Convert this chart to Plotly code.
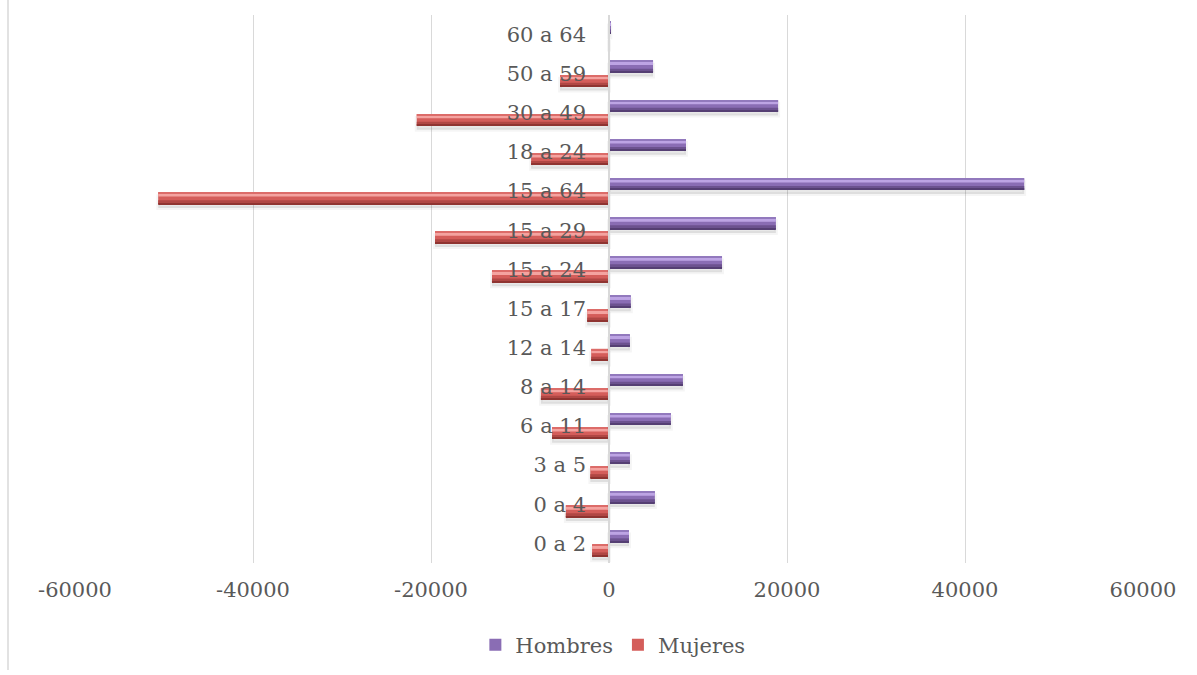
import plotly.graph_objects as go

# Age groups, bottom to top
grupos = ["0 a 2", "0 a 4", "3 a 5", "6 a 11", "8 a 14", "12 a 14", "15 a 17",
          "15 a 24", "15 a 29", "15 a 64", "18 a 24", "30 a 49", "50 a 59", "60 a 64"]
hombres = [2250, 5150, 2350, 6950, 8300, 2350, 2450,
           12700, 18750, 46650, 8650, 19000, 4950, 150]
mujeres = [-1900, -4850, -2100, -6400, -7650, -2000, -2450,
           -13150, -19550, -50650, -8750, -21600, -5500, 0]
x_ticks = [-60000, -40000, -20000, 0, 20000, 40000, 60000]

FONT = "DejaVu Serif"
TEXT = "#595959"
GRID = "#d9d9d9"

fig = go.Figure()

# Each series is drawn as layered bars for a bevelled look.
# Bands are (offset from lower edge, thickness, colour), bottom to top.
series = [
    dict(name="Mujeres", x=mujeres, rank=2, top=-0.03, body="#d45d5a",
         bands=[(0.00, 0.10, "#b04744"), (0.00, 0.03, "#8f3431"),
                (0.19, 0.08, "#f4a3a0"), (0.27, 0.03, "#dc6c69")]),
    dict(name="Hombres", x=hombres, rank=1, top=0.33, body="#8a6db4",
         bands=[(0.00, 0.10, "#6c528f"), (0.00, 0.03, "#553f73"),
                (0.19, 0.08, "#bda4e4"), (0.27, 0.03, "#9279bd")]),
]

for s in series:
    base = s["top"] - 0.30  # lower edge of the bar in category units
    # shadow below the bar
    fig.add_trace(go.Bar(
        y=grupos, x=s["x"], orientation="h", base=0,
        offset=base - 0.10, width=0.30,
        marker=dict(color="rgba(0,0,0,0.09)", line=dict(color="rgba(0,0,0,0.04)", width=4)),
        showlegend=False, hoverinfo="skip"))
    # body
    fig.add_trace(go.Bar(
        y=grupos, x=s["x"], orientation="h", name=s["name"],
        offset=base, width=0.30, legendrank=s["rank"],
        marker=dict(color=s["body"], line=dict(width=0)),
        showlegend=True))
    for off, wid, col in s["bands"]:
        fig.add_trace(go.Bar(
            y=grupos, x=s["x"], orientation="h",
            offset=base + off, width=wid,
            marker=dict(color=col, line=dict(width=0)),
            showlegend=False, hoverinfo="skip"))

W, H = 1197, 675
dom_x = [75 / W, 1143 / W]
dom_y = [1 - 563 / H, 1 - 15 / H]

fig.update_layout(
    width=W, height=H,
    margin=dict(l=0, r=0, t=0, b=0, autoexpand=False),
    paper_bgcolor="white", plot_bgcolor="white",
    barmode="overlay",
    font=dict(family=FONT, color=TEXT, size=21),
    xaxis=dict(
        domain=dom_x, range=[-60000, 60000], automargin=False,
        tickvals=x_ticks, ticktext=[str(v) for v in x_ticks],
        showgrid=True, gridcolor=GRID, gridwidth=1,
        zeroline=False, showline=False,
        ticks="", ticklabelstandoff=12,
        tickfont=dict(family=FONT, size=21, color=TEXT),
        fixedrange=True,
    ),
    yaxis=dict(
        domain=dom_y, anchor="free", position=sum(dom_x) / 2, automargin=False,
        type="category", categoryorder="array", categoryarray=grupos,
        range=[-0.5, len(grupos) - 0.5],
        showgrid=False, zeroline=False,
        showline=True, linecolor=GRID, linewidth=1.5,
        ticks="", ticklabelstandoff=18,
        tickfont=dict(family=FONT, size=21, color=TEXT),
        fixedrange=True,
    ),
    legend=dict(
        orientation="h", x=0.512, xanchor="center", y=1 - 645 / H, yanchor="middle",
        font=dict(family=FONT, size=21, color=TEXT),
        itemwidth=30, tracegroupgap=0,
    ),
    shapes=[dict(type="line", xref="paper", yref="paper",
                 x0=8 / W, x1=8 / W, y0=1 - 670 / H, y1=1,
                 line=dict(color=GRID, width=1.5))],
)

fig.write_html("out.html")
